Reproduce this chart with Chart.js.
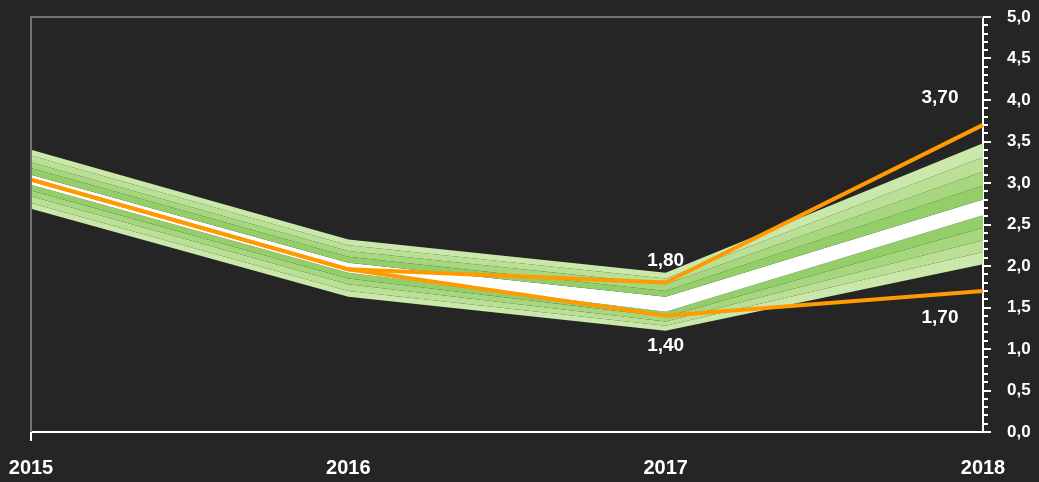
<!DOCTYPE html>
<html>
<head>
<meta charset="utf-8">
<script src="https://cdn.jsdelivr.net/npm/chart.js@4/dist/chart.umd.min.js"></script>
<style>
  html, body { margin: 0; padding: 0; background: #252525; }
  #wrap { width: 1039px; height: 482px; position: relative; }
</style>
</head>
<body>
<div id="wrap"><canvas id="fanChart"></canvas></div>
<script>
// Évek (kategóriák)
const years = ['2015', '2016', '2017', '2018'];

// Forgatókönyvek (narancs vonalak)
const scenarioHigh = [3.04, 1.96, 1.80, 3.70];
const scenarioLow = [3.04, 1.96, 1.40, 1.70];

// Legyező sávok határai (kívülről befelé)
const outerUpper = [3.40, 2.32, 1.92, 3.48];
const band1Upper = [3.33, 2.25, 1.85, 3.31];
const band2Upper = [3.25, 2.18, 1.78, 3.14];
const band3Upper = [3.18, 2.11, 1.70, 2.97];
const centerUpper = [3.10, 2.04, 1.63, 2.80];
const centerLower = [2.98, 1.92, 1.45, 2.61];
const band3Lower = [2.91, 1.85, 1.39, 2.46];
const band2Lower = [2.84, 1.78, 1.33, 2.31];
const band1Lower = [2.76, 1.70, 1.28, 2.17];
const outerLower = [2.69, 1.63, 1.22, 2.02];

const yTickMax = 5;

const greens = ['#cbe8ab', '#b9e094', '#a6d77e', '#93ce68'];
const orange = '#ff9a00';
const fmt = v => v.toFixed(2).replace('.', ',');

function band(data, color) {
    return { data: data, borderWidth: 0, pointRadius: 0, fill: '-1', backgroundColor: color, tension: 0 };
}

// háttér + keret + apró osztások
const decor = {
    id: 'decor',
    beforeDraw(chart) {
        const c = chart.ctx;
        c.save();
        c.fillStyle = '#252525';
        c.fillRect(0, 0, chart.width, chart.height);
        c.restore();
    },
    afterDraw(chart) {
        const c = chart.ctx;
        const a = chart.chartArea;
        const y = chart.scales.y;
        c.save();
        c.strokeStyle = '#707070';
        c.lineWidth = 2;
        c.beginPath();
        c.moveTo(a.left, a.bottom);
        c.lineTo(a.left, a.top);
        c.lineTo(a.right, a.top);
        c.stroke();
        c.strokeStyle = '#ffffff';
        c.beginPath();
        c.moveTo(a.left, a.bottom);
        c.lineTo(a.left, a.bottom + 9);
        for (let i = 0; i <= yTickMax * 10; i++) {
            const py = Math.round(y.getPixelForValue(i / 10));
            const len = i % 5 === 0 ? 8 : 5;
            c.moveTo(a.right, py);
            c.lineTo(a.right + len, py);
        }
        c.stroke();

        // adatcímkék
        c.font = 'bold 19px "Liberation Sans", Arial, sans-serif';
        c.fillStyle = '#ffffff';
        c.textAlign = 'center';
        c.textBaseline = 'middle';
        const hi = chart.getDatasetMeta(0).data;
        const lo = chart.getDatasetMeta(1).data;
        c.fillText(fmt(scenarioHigh[2]), hi[2].x, hi[2].y - 22);
        c.fillText(fmt(scenarioLow[2]), lo[2].x, lo[2].y + 30);
        c.fillText(fmt(scenarioHigh[3]), hi[3].x - 43, hi[3].y - 27);
        c.fillText(fmt(scenarioLow[3]), lo[3].x - 43, lo[3].y + 27);
        c.restore();
    }
};

function noPad(scale) {
    scale.paddingLeft = 0;
    scale.paddingRight = 0;
    scale.paddingTop = 0;
    scale.paddingBottom = 0;
}

const ctx = document.getElementById('fanChart').getContext('2d');
window.myChart = new Chart(ctx, {
    type: 'line',
    data: {
        labels: years,
        datasets: [
            { data: scenarioHigh, borderColor: orange, borderWidth: 4, pointRadius: 0, fill: false, tension: 0 },
            { data: scenarioLow, borderColor: orange, borderWidth: 4, pointRadius: 0, fill: false, tension: 0 },
            { data: outerUpper, borderWidth: 0, pointRadius: 0, fill: false },
            band(band1Upper, greens[0]),
            band(band2Upper, greens[1]),
            band(band3Upper, greens[2]),
            band(centerUpper, greens[3]),
            band(centerLower, '#ffffff'),
            band(band3Lower, greens[3]),
            band(band2Lower, greens[2]),
            band(band1Lower, greens[1]),
            band(outerLower, greens[0])
        ]
    },
    options: {
        responsive: true,
        maintainAspectRatio: false,
        animation: false,
        layout: { padding: { left: 31, top: 17, right: 0, bottom: 0 } },
        plugins: { legend: { display: false }, tooltip: { enabled: false } },
        scales: {
            x: {
                offset: false,
                grid: { display: false },
                border: { color: '#ffffff', width: 2 },
                ticks: {
                    color: '#ffffff',
                    maxRotation: 0,
                    padding: 16,
                    font: { family: '"Liberation Sans", Arial, sans-serif', size: 20, weight: 'bold' }
                },
                afterFit(scale) { scale.height = 50; noPad(scale); }
            },
            y: {
                position: 'right',
                min: 0,
                max: yTickMax,
                grid: { display: false },
                border: { color: '#ffffff', width: 2 },
                ticks: {
                    stepSize: 0.5,
                    color: '#ffffff',
                    padding: 16,
                    font: { family: '"Liberation Sans", Arial, sans-serif', size: 17, weight: 'bold' },
                    callback: v => v.toFixed(1).replace('.', ',')
                },
                afterFit(scale) { scale.width = 56; noPad(scale); }
            }
        }
    },
    plugins: [decor]
});
</script>
</body>
</html>
